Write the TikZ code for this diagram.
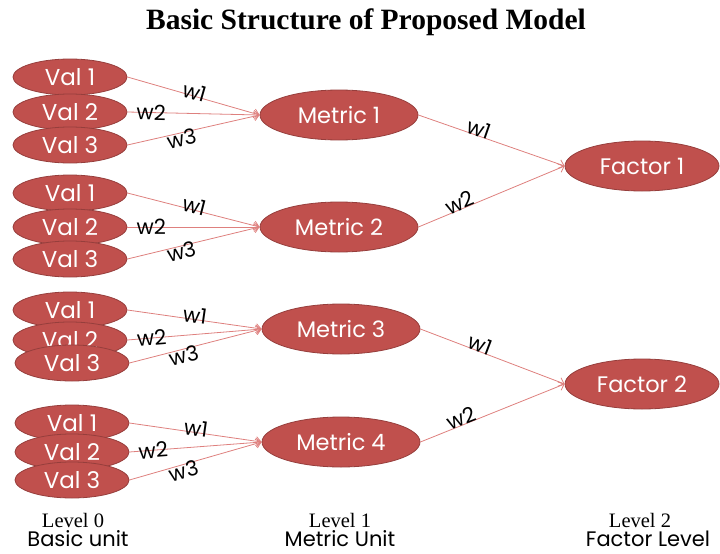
\documentclass[tikz,border=0pt]{standalone}
\usepackage{fontspec}
\setmainfont{Liberation Serif}
\newfontfamily\gothic{Poppins}
\usetikzlibrary{shapes.geometric,arrows.meta}
\definecolor{nodefill}{RGB}{192,80,77}
\definecolor{nodeline}{RGB}{150,62,60}
\definecolor{linkred}{RGB}{222,128,126}
\tikzset{
  blob/.style={ellipse, fill=nodefill, draw=nodeline, line width=0.8pt,
    inner sep=0pt, text=white},
  valnode/.style={blob, minimum width=114pt, minimum height=36pt,
    font=\gothic\fontsize{23}{23}\selectfont},
  metricnode/.style={blob, minimum width=158pt, minimum height=50pt,
    font=\gothic\fontsize{22.5}{22.5}\selectfont},
  factornode/.style={blob, minimum width=154pt, minimum height=50pt,
    font=\gothic\fontsize{22.5}{22.5}\selectfont},
  link/.style={draw=linkred, line width=0.8pt, -{Straight Barb[length=5pt,width=9pt]}},
  wlab/.style={font=\gothic\fontsize{21}{21}\selectfont, inner sep=0pt, sloped},
  levtop/.style={font=\fontsize{20.5}{20.5}\selectfont, inner sep=0pt},
  levbot/.style={font=\gothic\fontsize{21}{21}\selectfont, inner sep=0pt}
}
\begin{document}
\begin{tikzpicture}[x=1pt,y=-1pt]
\useasboundingbox (0,0) rectangle (720,554);

\node[font=\bfseries\fontsize{29.5}{29.5}\selectfont] (title) at (366,22) {Basic Structure of Proposed Model};

% level 2 factors
\node[factornode] (f1) at (642,166) {Factor 1};
\node[factornode] (f2) at (642,384) {Factor 2};

% level 1 metrics
\node[metricnode] (m1) at (339,115) {Metric 1};
\node[metricnode] (m2) at (339,227) {Metric 2};
\node[metricnode] (m3) at (341,329) {Metric 3};
\node[metricnode] (m4) at (341,442) {Metric 4};

% level 0 values, drawn top to bottom so each overlaps the one above
\node[valnode] (a1) at (70,77) {Val 1};
\node[valnode] (a2) at (70,112) {Val 2};
\node[valnode] (a3) at (70,145) {Val 3};

\node[valnode] (b1) at (70,193) {Val 1};
\node[valnode] (b2) at (70,227) {Val 2};
\node[valnode] (b3) at (70,259) {Val 3};

\node[valnode] (c1) at (70,310) {Val 1};
\node[valnode] (c2) at (70,340) {Val 2};
\node[valnode] (c3) at (72,363) {Val 3};

\node[valnode] (d1) at (72,423) {Val 1};
\node[valnode] (d2) at (72,452) {Val 2};
\node[valnode] (d3) at (72,480) {Val 3};

% weighted links into the metrics
\foreach \g/\m in {a/m1,b/m2,c/m3,d/m4}{
  \draw[link] (\g1.east) -- node[wlab, pos=0.5, yshift=4pt] {w1} (\m.west);
  \draw[link] (\g2.east) -- node[wlab, pos=0.18, yshift=0pt] {w2} (\m.west);
  \draw[link] (\g3.east) -- node[wlab, pos=0.4, yshift=-6pt] {w3} (\m.west);
}

% weighted links into the factors
\draw[link] (m1.east) -- node[wlab, pos=0.4, yshift=7pt] {w1} (f1.west);
\draw[link] (m2.east) -- node[wlab, pos=0.3, yshift=7pt] {w2} (f1.west);
\draw[link] (m3.east) -- node[wlab, pos=0.4, yshift=7pt] {w1} (f2.west);
\draw[link] (m4.east) -- node[wlab, pos=0.3, yshift=7pt] {w2} (f2.west);

% level captions
\node[levtop] (l0a) at (73,520) {Level 0};
\node[levbot] (l0b) at (78,539) {Basic unit};
\node[levtop] (l1a) at (340,520) {Level 1};
\node[levbot] (l1b) at (340,539) {Metric Unit};
\node[levtop] (l2a) at (640,520) {Level 2};
\node[levbot] (l2b) at (648,539) {Factor Level};
\end{tikzpicture}
\end{document}
